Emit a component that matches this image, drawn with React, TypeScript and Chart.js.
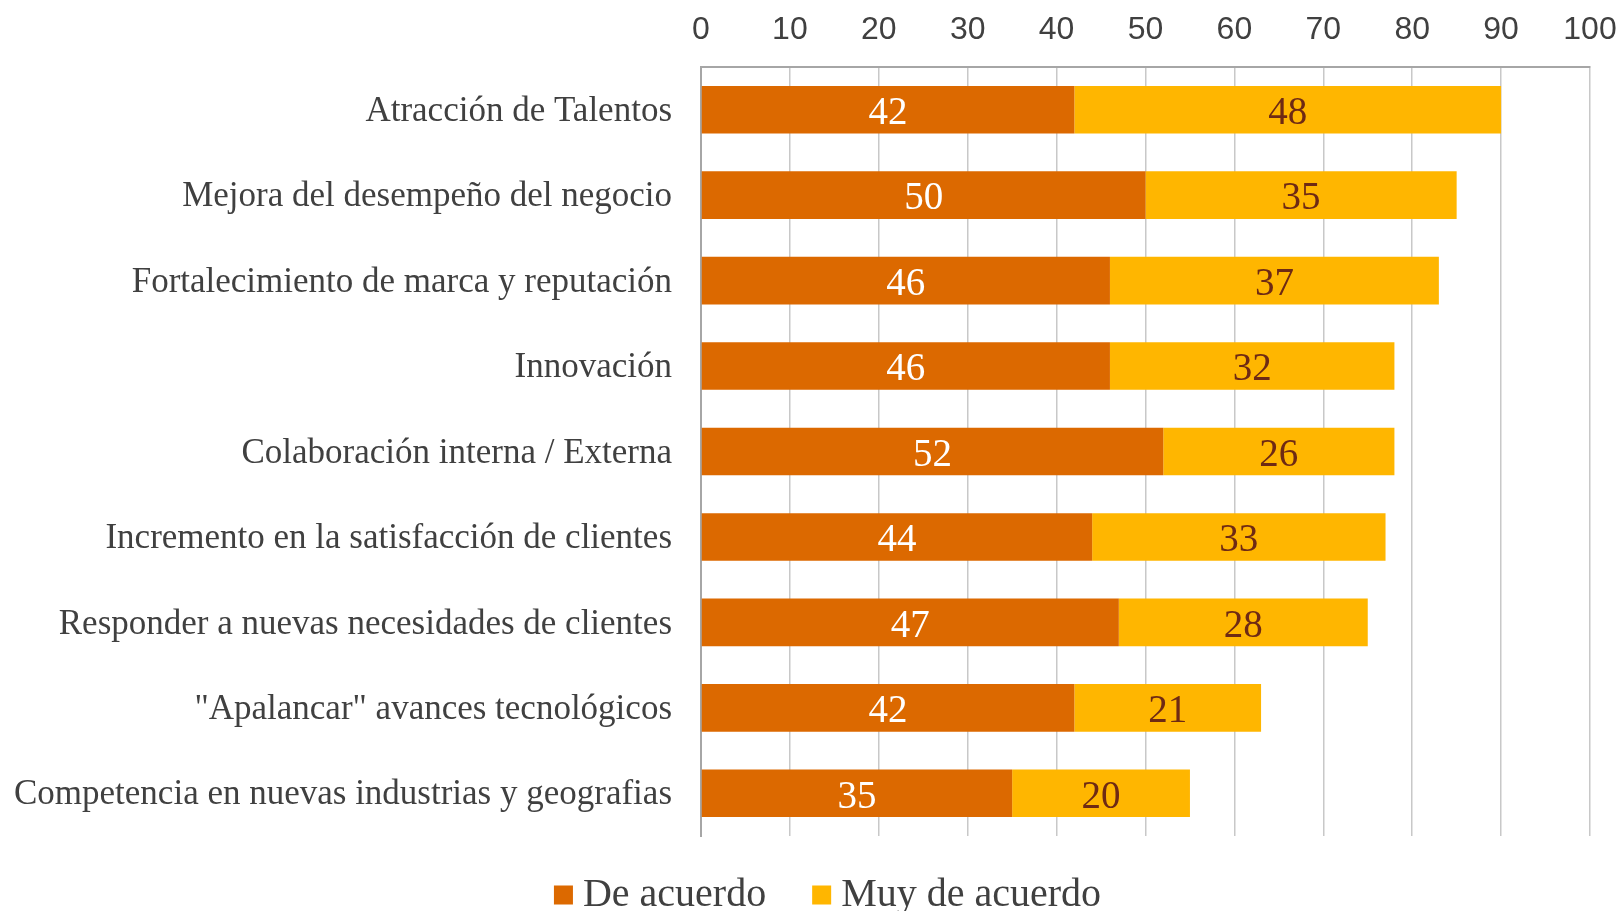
import React, { useEffect, useRef } from "react";
import { Chart, registerables } from "chart.js";

Chart.register(...registerables);

const categories = [
  "Atracción de Talentos",
  "Mejora del desempeño del negocio",
  "Fortalecimiento de marca y reputación",
  "Innovación",
  "Colaboración interna / Externa",
  "Incremento en la satisfacción de clientes",
  "Responder a nuevas necesidades de clientes",
  "\"Apalancar\" avances tecnológicos",
  "Competencia en nuevas industrias y geografias",
];
const deAcuerdo = [42, 50, 46, 46, 52, 44, 47, 42, 35];
const muyDeAcuerdo = [48, 35, 37, 32, 26, 33, 28, 21, 20];
const seriesNames = ["De acuerdo", "Muy de acuerdo"];
const seriesColors = ["#DC6900", "#FFB600"];
const labelColors = ["#FFFFFF", "#6E2A14"];

const W = 1621;
const H = 911;

const valueLabels = {
  id: "valueLabels",
  afterDatasetsDraw(chart: any) {
    const ctx = chart.ctx;
    ctx.save();
    ctx.font = "39px 'Liberation Serif'";
    ctx.textAlign = "center";
    ctx.textBaseline = "middle";
    chart.data.datasets.forEach((ds: any, di: number) => {
      const meta = chart.getDatasetMeta(di);
      ctx.fillStyle = labelColors[di];
      meta.data.forEach((el: any, i: number) => {
        const x = (el.x + el.base) / 2;
        ctx.fillText(String(ds.data[i]), x, el.y + 4);
      });
    });
    ctx.restore();
  },
};

const customLegend = {
  id: "customLegend",
  afterDraw(chart: any) {
    const ctx = chart.ctx;
    ctx.save();
    ctx.font = "40px 'Liberation Serif'";
    ctx.textBaseline = "middle";
    const box = 19;
    const gapText = 10;
    const gapItems = 46;
    const widths = seriesNames.map((n) => box + gapText + ctx.measureText(n).width);
    const total = widths.reduce((a, b) => a + b, 0) + gapItems * (seriesNames.length - 1);
    let x = chart.width / 2 + 17 - total / 2;
    const y = chart.chartArea.bottom + 59;
    seriesNames.forEach((n, i) => {
      ctx.fillStyle = seriesColors[i];
      ctx.fillRect(x, y - box / 2, box, box);
      ctx.fillStyle = "#404040";
      ctx.fillText(n, x + box + gapText, y);
      x += widths[i] + gapItems;
    });
    ctx.restore();
  },
};

export default function App() {
  const ref = useRef<HTMLCanvasElement>(null);
  useEffect(() => {
    const chart = new Chart(ref.current!, {
      type: "bar",
      data: {
        labels: categories,
        datasets: [
          {
            label: seriesNames[0],
            data: deAcuerdo,
            backgroundColor: seriesColors[0],
            categoryPercentage: 1,
            barPercentage: 0.557,
          },
          {
            label: seriesNames[1],
            data: muyDeAcuerdo,
            backgroundColor: seriesColors[1],
            categoryPercentage: 1,
            barPercentage: 0.557,
          },
        ],
      },
      options: {
        indexAxis: "y",
        animation: false,
        responsive: false,
        maintainAspectRatio: false,
        layout: { padding: { left: 0, right: 31, top: 0, bottom: 75 } },
        plugins: {
          legend: { display: false },
          tooltip: { enabled: false },
        },
        scales: {
          x: {
            position: "top",
            stacked: true,
            min: 0,
            max: 100,
            ticks: {
              stepSize: 10,
              padding: 0,
              color: "#404040",
              font: { family: "'Liberation Sans'", size: 32, lineHeight: 2.33 },
            },
            grid: { color: "#C8C8C8", lineWidth: 1.5, drawTicks: false },
            border: { display: true, color: "#A6A6A6", width: 2 },
            afterFit: (s: any) => {
              s.height = 67;
            },
          },
          y: {
            stacked: true,
            ticks: {
              padding: 29,
              labelOffset: 2,
              color: "#404040",
              font: { family: "'Liberation Serif'", size: 35 },
            },
            grid: { display: false, drawTicks: false },
            border: { display: true, color: "#A6A6A6", width: 2 },
            afterFit: (s: any) => {
              s.width = 701;
            },
          },
        },
      },
      plugins: [valueLabels, customLegend],
    });
    return () => chart.destroy();
  }, []);
  return (
    <div
      style={{
        position: "fixed",
        left: 0,
        top: 0,
        width: W,
        height: H,
        overflow: "hidden",
        background: "#FFFFFF",
      }}
    >
      <canvas ref={ref} width={W} height={H} style={{ width: W, height: H, display: "block" }} />
    </div>
  );
}
